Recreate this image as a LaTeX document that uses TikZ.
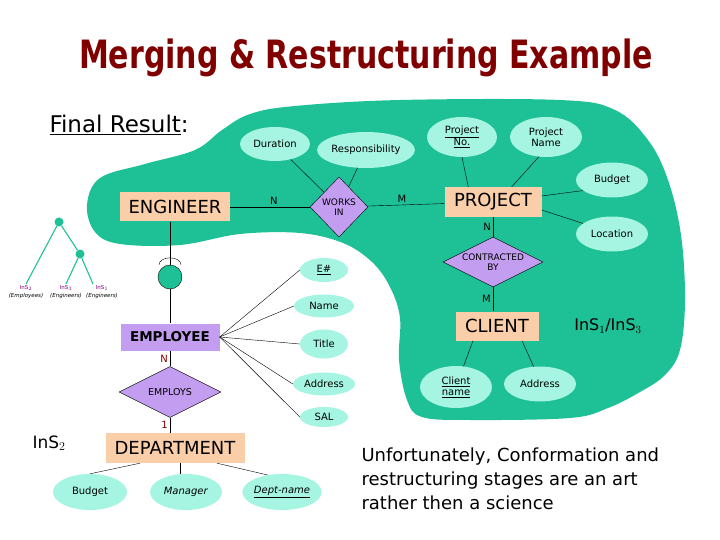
\documentclass[tikz,border=0pt]{standalone}
\usepackage{graphicx}
\usepackage{fontspec}
\setmainfont{DejaVu Sans}
\usetikzlibrary{shapes.geometric}
\definecolor{blob}{RGB}{30,192,150}
\definecolor{aqua}{RGB}{165,245,226}
\definecolor{peach}{RGB}{250,206,168}
\definecolor{lilac}{RGB}{195,158,240}
\definecolor{maroon}{RGB}{128,0,0}
\definecolor{leafpurple}{RGB}{128,0,128}

\begin{document}
\begin{tikzpicture}[x=1pt,y=-1pt,
  attr/.style={ellipse,fill=aqua,inner sep=0pt,align=center,font=\fontsize{10}{11}\selectfont},
  ent/.style={fill=peach,inner sep=0pt,minimum height=29pt,font=\fontsize{18}{18}\selectfont},
  rel/.style={diamond,draw,fill=lilac,inner sep=0pt,align=center,font=\fontsize{9}{10}\selectfont},
  card/.style={inner sep=2pt,font=\fontsize{10}{10}\selectfont},
  leaf/.style={align=center,inner sep=1pt,font=\fontsize{5.5}{8}\selectfont}]
\useasboundingbox (0,0) rectangle (720,540);

\fill[blob] plot[smooth cycle,tension=0.6] coordinates {(87,205) (100,178) (145,164) (195,150) (222,130) (250,114) (295,106) (400,100) (560,100) (615,110) (648,140) (668,180) (681,235) (685,300) (680,350) (665,375) (640,392) (608,408) (570,418) (470,420) (422,417) (407,400) (399,360) (400,318) (390,287) (372,262) (343,243) (300,233) (240,234) (180,245) (120,244) (95,232)};

\node[text=maroon,font=\bfseries\fontsize{30}{30}\selectfont] (title) at (366,58) {\scalebox{1}[1.3]{Merging \& Restructuring Example}};
\node[anchor=west,font=\fontsize{23}{23}\selectfont] (final) at (46,125) {\underline{Final Result}:};

\node[attr,minimum width=70pt,minimum height=34pt] (dur) at (275,144) {Duration};
\node[attr,minimum width=96pt,minimum height=36pt] (resp) at (366,150) {Responsibility};
\node[attr,minimum width=70pt,minimum height=40pt] (pno) at (462,137) {\underline{Project}\\\underline{No.}};
\node[attr,minimum width=72pt,minimum height=40pt] (pname) at (546,137) {Project\\Name};
\node[attr,minimum width=72pt,minimum height=35pt] (budget) at (612,180) {Budget};
\node[attr,minimum width=72pt,minimum height=35pt] (loc) at (612,234) {Location};

\node[ent,minimum width=110pt] (eng) at (175,207) {ENGINEER};
\node[rel,minimum width=58pt,minimum height=60pt] (works) at (339,207) {WORKS\\IN};
\node[ent,minimum width=97pt,minimum height=30pt] (proj) at (493,202) {PROJECT};
\node[rel,minimum width=100pt,minimum height=50pt,shape aspect=2] (contr) at (493,262) {CONTRACTED\\BY};
\node[ent,minimum width=83pt] (client) at (497,326) {CLIENT};
\node[attr,minimum width=72pt,minimum height=42pt] (cname) at (456,387) {\underline{Client}\\\underline{name}};
\node[attr,minimum width=72pt,minimum height=35pt] (caddr) at (540,384) {Address};
\node[font=\fontsize{16}{16}\selectfont] (ins13) at (608,326) {InS$_1$/InS$_3$};

\draw (eng) -- node[card,above,pos=.55] (cn1) {N} (works);
\draw (works) -- node[card,above,pos=.45] (cm1) {M} (proj);
\draw (dur) -- (works);
\draw (resp) -- (works);
\draw (pno.south) -- ([xshift=24pt]proj.north west);
\draw (pname.250) -- ([xshift=-30pt]proj.north east);
\draw ([yshift=6pt]proj.east) -- (budget.200);
\draw ([yshift=-8pt]proj.east) -- (loc.160);
\draw (proj) -- node[card,left] (cn2) {N} (contr);
\draw (contr.south) -- node[card,left] (cm2) {M} (contr.south |- client.north);
\draw ([xshift=-24pt]client.south) -- (cname.70);
\draw ([xshift=25pt]client.south) -- (caddr.110);

\node[circle,fill=blob,inner sep=0pt,minimum size=9pt] (troot) at (59,222) {};
\node[circle,fill=blob,inner sep=0pt,minimum size=9pt] (tmid) at (80,254) {};
\node[leaf,anchor=north] (s2) at (26,284) {\textcolor{leafpurple}{InS$_2$}\\\textit{(Employees)}};
\node[leaf,anchor=north] (s3) at (66,284) {\textcolor{leafpurple}{InS$_3$}\\\textit{(Engineers)}};
\node[leaf,anchor=north] (s1) at (102,284) {\textcolor{leafpurple}{InS$_1$}\\\textit{(Engineers)}};
\draw[blob,line width=1.1pt] (troot) -- (s2.north) (troot) -- (tmid) (tmid) -- (s3.north) (tmid) -- (s1.north -| 93,0);

\node[circle,draw,fill=blob,inner sep=0pt,minimum size=24pt] (sub) at (170,277) {};
\draw (eng.south -| sub) -- (sub.north);
\draw ([xshift=11pt]sub.north) arc[start angle=0,end angle=180,x radius=11pt,y radius=7pt];
\node[fill=lilac,inner sep=0pt,minimum width=99pt,minimum height=27pt,font=\bfseries\fontsize{13.5}{14}\selectfont] (emp) at (170,337) {EMPLOYEE};
\draw (sub.south) -- (emp.north);
\node[rel,minimum width=102pt,minimum height=51pt,shape aspect=2,font=\fontsize{9.5}{10}\selectfont] (employs) at (170,392) {EMPLOYS};
\draw (emp.south) -- node[card,left,text=maroon] (cn3) {N} (employs.north);
\node[ent,minimum width=139pt,minimum height=30pt] (dept) at (175,448) {DEPARTMENT};
\draw (employs.south) -- node[card,left,text=maroon] (c1) {1} (employs.south |- dept.north);
\node[font=\fontsize{17}{17}\selectfont] (ins2) at (49,443) {InS$_2$};

\node[attr,minimum width=48pt,minimum height=24pt] (eno) at (324,270) {\underline{E\#}};
\node[attr,minimum width=60pt,minimum height=23pt] (ename) at (324,306) {Name};
\node[attr,minimum width=48pt,minimum height=29pt] (etitle) at (324,344) {Title};
\node[attr,minimum width=62pt,minimum height=23pt] (eaddr) at (324,384) {Address};
\node[attr,minimum width=48pt,minimum height=20pt] (sal) at (324,417) {SAL};
\foreach \a in {eno,ename,etitle,eaddr,sal}
  \draw (emp.east) -- (\a.west);

\node[attr,minimum width=74pt,minimum height=36pt] (dbudget) at (90,492) {Budget};
\node[attr,minimum width=72pt,minimum height=36pt] (mgr) at (186,492) {\textit{Manager}};
\node[attr,minimum width=72pt,minimum height=36pt] (dname) at (282,492) {\underline{\textit{Dept-name}}};
\draw ([xshift=-35pt]dept.south) -- (dbudget.north);
\draw ([xshift=5pt]dept.south) -- ([xshift=5pt]dept.south |- mgr.north);
\draw ([xshift=42pt]dept.south) -- (dname.130);

\node[anchor=north west,align=left,font=\fontsize{18}{24}\selectfont] (moral) at (358,444) {Unfortunately, Conformation and\\restructuring stages are an art\\rather then a science};
\end{tikzpicture}
\end{document}
